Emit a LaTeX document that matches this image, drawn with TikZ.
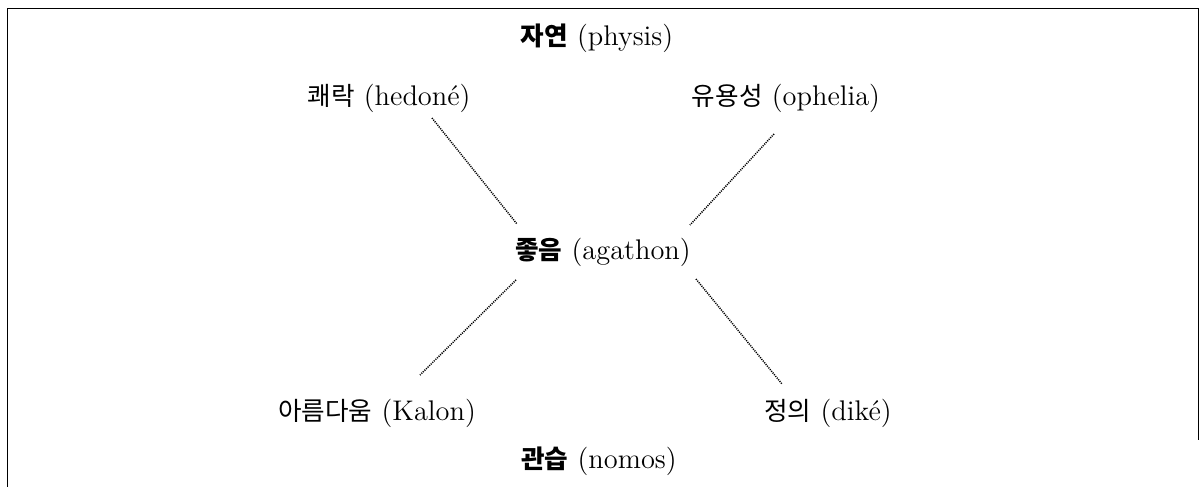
\documentclass[tikz,border=0pt]{standalone}
\usepackage{fontspec}
\newfontfamily\krfont{Noto Sans CJK KR}
\newcommand\kor[1]{{\krfont\fontsize{12.8}{15}\selectfont #1}}
\newcommand\korb[1]{{\krfont\bfseries\fontsize{12.8}{15}\selectfont #1}}
\begin{document}
\begin{tikzpicture}[x=0.5pt,y=-0.5pt,
  lbl/.style={inner sep=0pt, anchor=center, font=\fontsize{14.2}{17}\selectfont},
  conn/.style={line width=0.75pt, dash pattern=on 0.55pt off 0.55pt},
  frame/.style={line width=0.7pt}]
\useasboundingbox (0,0) rectangle (1200,487);
\draw[frame] (7.5,487) -- (7.5,8.5) -- (1198.5,8.5) -- (1198.5,440);

\node[lbl] (physis) at (597,38) {\korb{자연} (physis)};
\node[lbl] (hedone) at (389,98) {\kor{쾌락} (hedoné)};
\node[lbl] (ophelia) at (786,98) {\kor{유용성} (ophelia)};
\node[lbl] (agathon) at (603,252) {\korb{좋음} (agathon)};
\node[lbl] (kalon) at (377,413) {\kor{아름다움} (Kalon)};
\node[lbl] (dike) at (828,413) {\kor{정의} (diké)};
\node[lbl] (nomos) at (599,461) {\korb{관습} (nomos)};

\coordinate (h1) at (432,118);
\coordinate (h2) at (517,224);
\coordinate (o1) at (774,134);
\coordinate (o2) at (690,225);
\coordinate (k1) at (516,280);
\coordinate (k2) at (420,375);
\coordinate (d1) at (696,279);
\coordinate (d2) at (782,384);

\draw[conn] (h1) -- (h2);
\draw[conn] (o1) -- (o2);
\draw[conn] (k1) -- (k2);
\draw[conn] (d1) -- (d2);
\end{tikzpicture}
\end{document}
